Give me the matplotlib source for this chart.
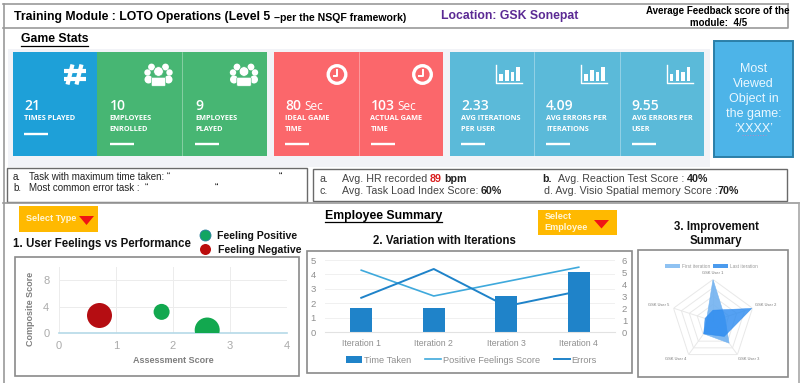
import matplotlib
matplotlib.use("Agg")
import matplotlib.pyplot as plt
import numpy as np
from matplotlib.patches import Rectangle, Circle, Ellipse, Polygon, FancyBboxPatch

plt.rcParams['font.family'] = ['Liberation Sans', 'DejaVu Sans']

W, H = 800, 383

# card data
blue_vals = ["21"]
blue_labels = ["TIMES PLAYED"]
green_vals = ["10", "9"]
green_labels = ["EMPLOYEES\nENROLLED", "EMPLOYEES\nPLAYED"]
red_vals = ["80", "103"]
red_labels = ["IDEAL GAME\nTIME", "ACTUAL GAME\nTIME"]
cyan_vals = ["2.33", "4.09", "9.55"]
cyan_labels = ["AVG ITERATIONS\nPER USER", "AVG ERRORS PER\nITERATIONS", "AVG ERRORS PER\nUSER"]

# chart 1
pos_x = [1.8, 2.6]
pos_y = [3.2, 0.45]
pos_r = [8, 12.5]
neg_x = [0.7]
neg_y = [2.7]
neg_r = [12.5]

# chart 2
iterations = ["Iteration 1", "Iteration 2", "Iteration 3", "Iteration 4"]
time_taken = [1.65, 1.65, 2.5, 4.2]
positive_feelings = [5.15, 3.0, 4.2, 5.4]
errors = [2.85, 5.25, 2.15, 3.4]

# chart 3
users = ["GSK User 1", "GSK User 2", "GSK User 3", "GSK User 4", "GSK User 5"]
first_iter = [5, 1.5, 3.3, 1.9, 0.8]
last_iter = [1.3, 4.9, 2.3, 1.9, 1.0]

fig = plt.figure(figsize=(W / 100, H / 100), dpi=100)
bg = fig.add_axes([0, 0, 1, 1])
bg.set_xlim(0, W)
bg.set_ylim(H, 0)
bg.axis('off')


def box(x0, y0, x1, y1, fc='none', ec='none', lw=1.0, z=1):
    bg.add_patch(Rectangle((x0, y0), x1 - x0, y1 - y0, fc=fc, ec=ec, lw=lw, zorder=z))


def sub_axes(x0, y0, x1, y1, **kw):
    return fig.add_axes([x0 / W, 1 - y1 / H, (x1 - x0) / W, (y1 - y0) / H], **kw)


GREY = '#9a9a9a'
# frame lines
bg.plot([3, 788, 788], [28, 28, 4], color=GREY, lw=1.2)
bg.plot([3, 788], [4, 4], color=GREY, lw=1.2)
bg.plot([3.5, 3.5], [4, H], color=GREY, lw=1.2)
bg.plot([3, 799], [203, 203], color=GREY, lw=1.2)
bg.plot([799, 799], [203, H], color='#a8a8a8', lw=1.2)

# header
bg.text(14, 17, "Training Module : LOTO Operations (Level 5", fontsize=8.85, fontweight='bold', va='center')
bg.text(274, 18, "\u2013per the NSQF framework)", fontsize=7.6, fontweight='bold', va='center')
bg.text(441, 16.5, "Location: GSK Sonepat", fontsize=8.85, fontweight='bold', color='#5b2a94', va='center')
bg.text(718, 11.5, "Average Feedback score of the", fontsize=7.0, fontweight='bold', ha='center', va='center')
bg.text(719, 23.5, "module:  4/5", fontsize=7.0, fontweight='bold', ha='center', va='center')
bg.text(21, 39.5, "Game Stats", fontsize=8.85, fontweight='bold', va='center')
bg.plot([21, 88], [45.5, 45.5], color='k', lw=0.9)

# cards
box(8, 49, 710, 167, fc='#f2f3f7')
box(13, 52, 97, 156, fc='#1ea0d8')
box(97, 52, 267, 156, fc='#47b673')
box(274, 52, 443, 156, fc='#fb676b')
box(450, 52, 704, 156, fc='#5bbad9')
for x in [182, 358.5, 534, 619.5]:
    bg.plot([x, x], [52, 156], color='white', lw=0.4, alpha=0.6, zorder=2)


def card(x, val, label, unit=None):
    bg.text(x, 106.5, val, fontsize=10, color='white', fontfamily='Open Sans', fontweight='semibold', va='center', zorder=3)
    if unit:
        bg.text(x + 9.5 * len(val) - 2 * (len(val) - 2), 107, unit, fontsize=8.5, color='white', fontfamily='Open Sans', va='center', zorder=3)
    for i, line in enumerate(label.split("\n")):
        bg.text(x, 119 + 10.3 * i, line, fontsize=5.3, color='white', fontfamily='Open Sans', fontweight='bold', va='center', zorder=3)
    ybar = 134 if "\n" not in label else 144
    bg.plot([x, x + 24], [ybar, ybar], color='white', lw=1.7, zorder=3, solid_capstyle='butt')


def hash_icon(cx, cy):
    for y in [cy - 3.5, cy + 4]:
        bg.plot([cx - 11, cx + 11], [y, y], color='white', lw=3, zorder=3, solid_capstyle='butt')
    for dx in [-4.5, 4.5]:
        bg.plot([cx + dx - 2.5, cx + dx + 2.5], [cy + 10, cy - 10], color='white', lw=3, zorder=3, solid_capstyle='butt')


def people(cx, cy):
    for dx, r, dy in [(-11, 3.2, -2), (11, 3.2, -2), (-7, 3.4, -7.5), (7, 3.4, -7.5)]:
        bg.add_patch(Circle((cx + dx, cy + dy), r, fc='white', ec='none', zorder=3))
    bg.add_patch(Ellipse((cx - 10, cy + 5), 8, 8, fc='white', ec='none', zorder=3))
    bg.add_patch(Ellipse((cx + 10, cy + 5), 8, 8, fc='white', ec='none', zorder=3))
    bg.add_patch(Circle((cx, cy - 3), 4.8, fc='white', ec='#47b673', lw=0.5, zorder=4))
    bg.add_patch(FancyBboxPatch((cx - 6, cy + 4), 12, 6.5, boxstyle="round,pad=1.2", fc='white', ec='#47b673', lw=0.4, zorder=4))


def clock(cx, cy):
    bg.add_patch(Circle((cx, cy), 8.8, fc='none', ec='white', lw=2.4, zorder=3))
    bg.plot([cx, cx, cx - 3.5], [cy - 4.5, cy + 1, cy + 1], color='white', lw=1.4, zorder=3)


def bars_icon(x, y):
    bg.plot([x, x, x + 26], [y - 18, y, y], color='white', lw=1, zorder=3)
    for dx, h in [(5, 7), (11, 11), (16.5, 9), (22, 14)]:
        box(x + dx - 1.9, y - 2 - h, x + dx + 1.9, y - 2, fc='white', z=3)


card(24, blue_vals[0], blue_labels[0])
hash_icon(74.5, 74.5)
for x, v, l in zip([109.5, 195], green_vals, green_labels):
    card(x, v, l)
    people(x + 49, 74.5)
for x, v, l in zip([285, 370.5], red_vals, red_labels):
    card(x, v, l, unit="Sec")
    clock(x + 52, 74.5)
for x, v, l in zip([461, 546, 631.5], cyan_vals, cyan_labels):
    card(x, v, l)
    bars_icon(x + 35, 83)

# most viewed box
box(714, 41, 793, 157, fc='#4db4e8', ec='#2b7fa8', lw=1.4)
for i, line in enumerate(["Most", "Viewed", "Object in", "the game:", "\u2018XXXX\u2019"]):
    bg.text(753.5, 68.7 + 15 * i, line, fontsize=9, color='#eaf7ff', ha='center', va='center', zorder=3)
bg.plot([742, 766], [135, 135], color='#b58ac8', lw=0.7, ls=':', zorder=3)

# text boxes
box(7, 168, 307, 202, ec='#6a6a6a', fc='white', lw=1.0)
box(313, 169, 787, 201, ec='#6a6a6a', fc='white', lw=1.0)
for y, a, b in [(176.7, "a.", "Task with maximum time taken: \u201c"), (188, "b.", "Most common error task :  \u201c")]:
    bg.text(13, y, a, fontsize=7, va='center', color='#222222')
    bg.text(29, y, b, fontsize=7, va='center', color='#222222')
bg.text(279, 176.7, "\u201c", fontsize=7, va='center')
bg.text(215, 188, "\u201c", fontsize=7, va='center')

C2 = '#444444'
F2 = 7.65
bg.text(319, 179, "a.", fontsize=F2, va='center', color=C2)
bg.text(342.5, 179, "Avg. HR recorded", fontsize=F2, va='center', color=C2)
bg.text(430, 179, "89", fontsize=F2, va='center', color='#d91f1f', fontweight='bold')
bg.text(444, 179, "bpm", fontsize=F2, va='center', color='#222222', fontweight='bold')
bg.text(319, 191, "c.", fontsize=F2, va='center', color=C2)
bg.text(342, 191, "Avg. Task Load Index Score:", fontsize=F2, va='center', color=C2)
bg.text(481, 191, "60%", fontsize=F2, va='center', color='#222222', fontweight='bold')
bg.text(542, 179, "b.", fontsize=F2, va='center', color='#222222', fontweight='bold')
bg.text(557.5, 179, "Avg. Reaction Test Score :", fontsize=F2, va='center', color=C2)
bg.text(686.5, 179, "40%", fontsize=F2, va='center', color='#222222', fontweight='bold')
bg.text(544, 191, "d. Avg. Visio Spatial memory Score :", fontsize=F2, va='center', color=C2)
bg.text(718, 191, "70%", fontsize=F2, va='center', color='#222222', fontweight='bold')


def dropdown(x0, y0, x1, y1, tx, ty, lines, ax_, ay0, ay1):
    box(x0, y0, x1, y1, fc='#ffb900', z=2)
    bg.text(tx, ty, lines, fontsize=6.6, fontweight='bold', color='#fff6d8', va='center', zorder=3, linespacing=1.25)
    bg.add_patch(Polygon([(ax_ - 7.5, ay0), (ax_ + 7.5, ay0), (ax_, ay1)], fc='#f01414', ec='none', zorder=3))


dropdown(18.5, 206, 97.5, 232, 26, 218.7, "Select Type", 86.5, 216, 225)
dropdown(538, 210, 617, 235, 544.5, 222.2, "Select\nEmployee", 601.5, 220, 228.5)

# section titles
bg.text(13, 244.5, "1. User Feelings vs Performance", fontsize=8.3, fontweight='bold', va='center', color='#111111')
bg.text(383.5, 215.5, "Employee Summary", fontsize=8.8, fontweight='bold', ha='center', va='center')
bg.plot([324.5, 442], [222, 222], color='k', lw=0.9)
bg.text(444, 241, "2. Variation with Iterations", fontsize=8.3, fontweight='bold', ha='center', va='center', color='#111111')
bg.text(716, 227, "3. Improvement", fontsize=8.3, fontweight='bold', ha='center', va='center', color='#111111')
bg.text(716, 241, "Summary", fontsize=8.3, fontweight='bold', ha='center', va='center', color='#111111')

# feeling legend
bg.add_patch(Circle((205.5, 235.5), 5.5, fc='#12a561', ec='#2a7f9f', lw=0.6, zorder=3))
bg.add_patch(Circle((205.5, 249.5), 5.5, fc='#bb0d0d', ec='none', zorder=3))
bg.text(217, 236, "Feeling Positive", fontsize=7.6, fontweight='bold', va='center', color='#111111')
bg.text(218, 250, "Feeling Negative", fontsize=7.6, fontweight='bold', va='center', color='#111111')

# chart panels
box(15, 257, 299, 376, ec='#8a8a8a', fc='white', lw=1.2)
box(307, 251, 632, 373, ec='#8a8a8a', fc='white', lw=1.2)
box(638, 250, 788, 377, ec='#8a8a8a', fc='white', lw=1.2)

# ---- chart 1
ax1 = sub_axes(59, 267, 287, 333)
ax1.set_xlim(0, 4)
ax1.set_ylim(0, 10)
ax1.set_xticks([0, 1, 2, 3, 4])
ax1.set_yticks([0, 4, 8])
ax1.patch.set_alpha(0)
ax1.grid(color='#ececec', lw=0.7)
ax1.set_axisbelow(True)
for s in ['top', 'right', 'left']:
    ax1.spines[s].set_visible(False)
ax1.spines['bottom'].set_color('#b5d9e8')
ax1.spines['bottom'].set_linewidth(1.2)
ax1.tick_params(length=0, labelsize=8, labelcolor='#ababab')
ax1.tick_params(axis='x', pad=6)
ax1.tick_params(axis='y', pad=7)
ax1.set_xlabel("Assessment Score", fontsize=6.5, fontweight='bold', color='#7f7f7f')
ax1.set_ylabel("Composite Score", fontsize=6.5, fontweight='bold', color='#7f7f7f')
ax1.xaxis.set_label_coords(0.5, -0.41, transform=ax1.transAxes)
ax1.yaxis.set_label_coords(-0.123, 0.36, transform=ax1.transAxes)
ax1.xaxis.label.set_va('center')
ax1.yaxis.label.set_va('center')
# sizes are given as radii in pixels, 1 px = 0.72 pt
ax1.scatter(pos_x, pos_y, s=[(r * 2 * 0.72) ** 2 for r in pos_r], color='#12a84f', linewidths=0, zorder=3)
ax1.scatter(neg_x, neg_y, s=[(r * 2 * 0.72) ** 2 for r in neg_r], color='#b50d12', linewidths=0, zorder=3)

# ---- chart 2
ax2 = sub_axes(325, 260, 615, 332)
ax2.patch.set_alpha(0)
xs = np.arange(len(iterations))
ax2.bar(xs, time_taken, width=0.31, color='#1f83c9', label="Time Taken", zorder=2)
ax2.set_xlim(-0.5, 3.5)
ax2.set_ylim(0, 5)
ax2.set_xticks(xs, iterations)
ax2.set_yticks(range(6))
ax2.grid(axis='y', color='#f0f0f0', lw=0.7)
ax2.set_axisbelow(True)
for s in ax2.spines.values():
    s.set_visible(False)
ax2.spines['bottom'].set_visible(True)
ax2.spines['bottom'].set_color('#e2e2e2')
ax2.tick_params(length=0, labelsize=6.3, labelcolor='#8f8f8f')
ax2.tick_params(axis='x', pad=5)
ax2.tick_params(axis='y', labelsize=6.8, pad=6.5)
ax2b = ax2.twinx()
ax2b.plot(xs, positive_feelings, color='#3fa9dc', lw=1.2, label="Positive Feelings Score", zorder=3)
ax2b.plot(xs, errors, color='#1f83c9', lw=1.4, label="Errors", zorder=3)
ax2b.set_ylim(0, 6)
ax2b.set_yticks(range(7))
for s in ax2b.spines.values():
    s.set_visible(False)
ax2b.tick_params(length=0, labelsize=6.8, labelcolor='#8f8f8f', pad=5)
h1, l1 = ax2.get_legend_handles_labels()
h2, l2 = ax2b.get_legend_handles_labels()
ax2b.legend(h1 + h2, l1 + l2, ncol=3, loc='center', bbox_to_anchor=(0.505, -0.39), frameon=False,
            fontsize=6.7, labelcolor='#8f8f8f', handlelength=1.7, handletextpad=0.2, columnspacing=1.5)

# ---- chart 3
cx, cy, rad = 713, 321, 41.5
ax3 = sub_axes(cx - rad, cy - rad, cx + rad, cy + rad, projection='polar')
ax3.patch.set_alpha(0)
ax3.set_theta_zero_location('N')
ax3.set_theta_direction(-1)
ax3.set_ylim(0, 5)
ax3.axis('off')
angles = np.linspace(0, 2 * np.pi, len(users), endpoint=False)
closed = np.append(angles, angles[0])
for ring in [1, 2, 3, 4, 5]:
    ax3.plot(closed, [ring] * len(closed), color='#e8e8e8', lw=0.7, zorder=1)
for a in angles:
    ax3.plot([a, a], [0, 5], color='#e8e8e8', lw=0.7, zorder=1)
ax3.fill(closed, first_iter + first_iter[:1], color='#72b2f0', alpha=0.9, lw=0.4, zorder=2)
ax3.fill(closed, last_iter + last_iter[:1], color='#2a8af0', alpha=0.8, lw=0.4, zorder=3)
label_pos = [(712.7, 273), (766, 305), (749, 359), (676, 359), (659, 305)]
for (lx, ly), u in zip(label_pos, users):
    bg.text(lx, ly, u, fontsize=2.9, color='#777777', ha='center', va='center', zorder=3)
box(665, 264, 680, 268.3, fc='#8fc2f2', z=3)
bg.text(682.5, 266, "First iteration", fontsize=3.4, color='#999999', va='center', zorder=3)
box(712.7, 264, 728, 268.3, fc='#4b9bee', z=3)
bg.text(730, 266, "Last iteration", fontsize=3.4, color='#999999', va='center', zorder=3)

fig.savefig("out.png", dpi=100)
